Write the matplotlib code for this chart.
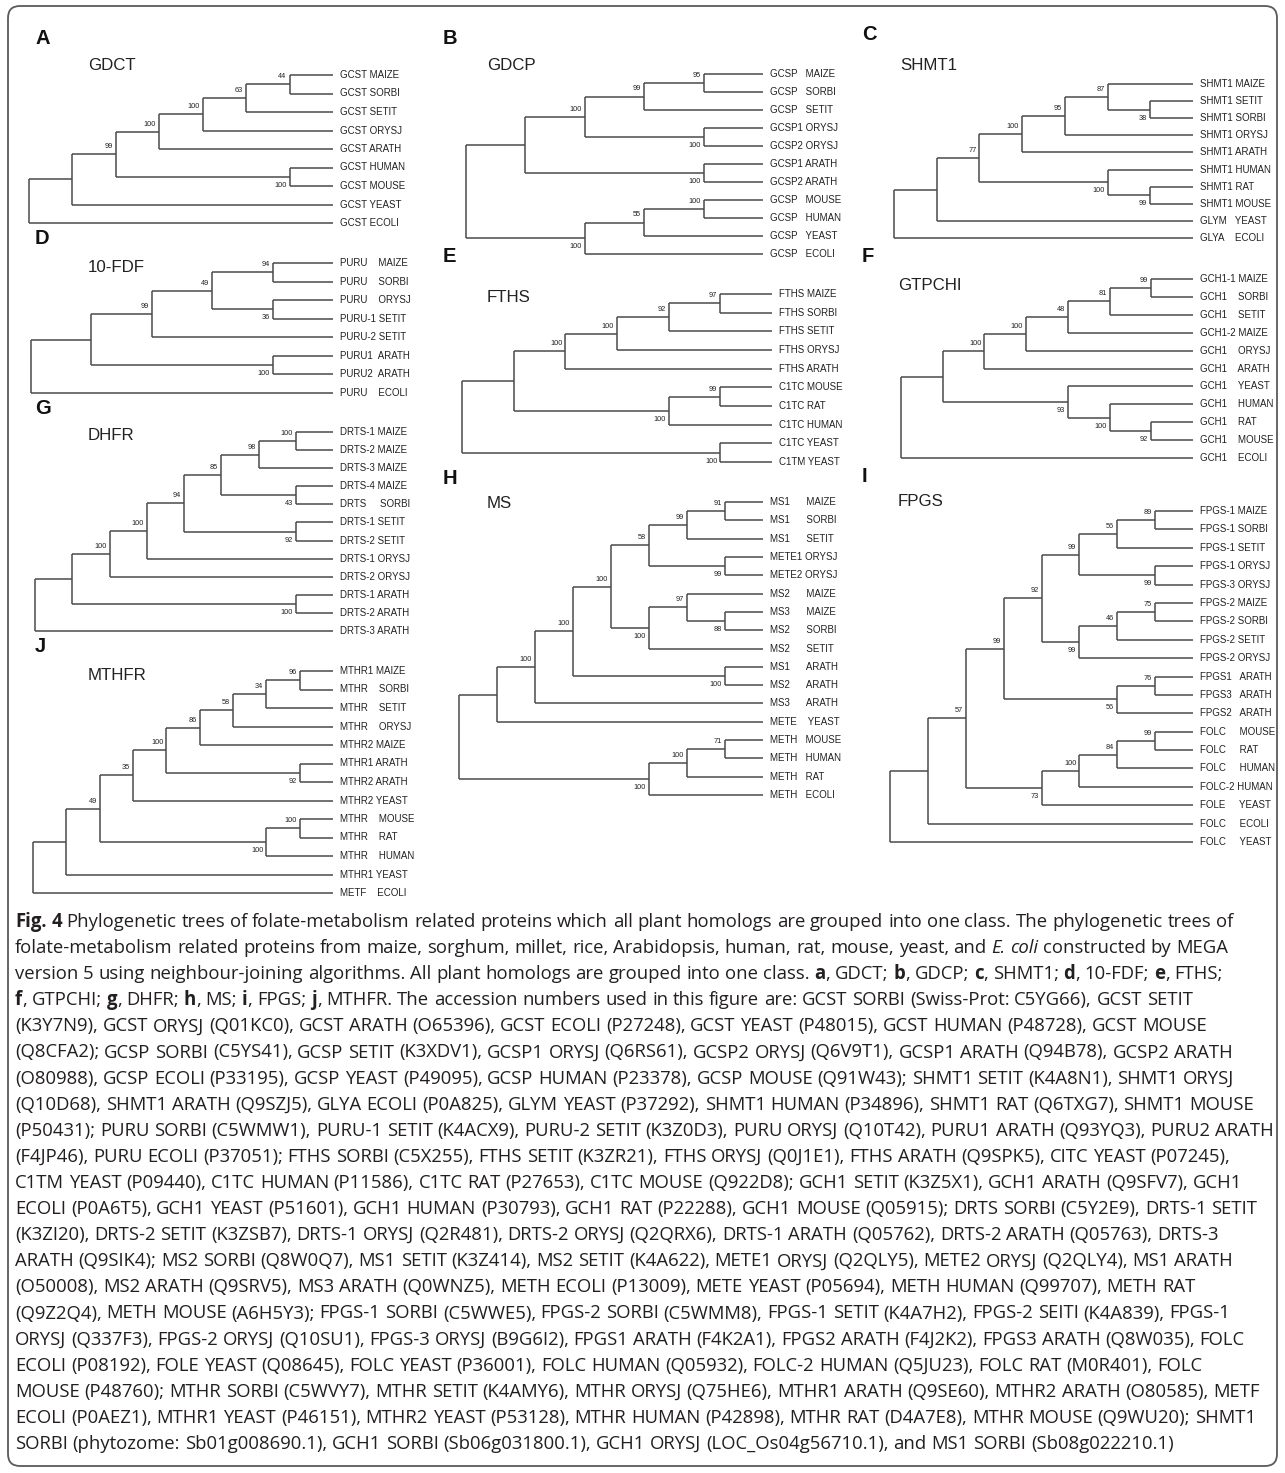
import re
import matplotlib
matplotlib.use("Agg")
import matplotlib.pyplot as plt
from matplotlib.patches import FancyBboxPatch

# ---------------------------------------------------------------- data
PANEL_LETTERS = ["A", "B", "C", "D", "E", "F", "G", "H", "I", "J"]
PANEL_TITLES = ["GDCT", "GDCP", "SHMT1", "10-FDF", "FTHS",
                "GTPCHI", "DHFR", "MS", "FPGS", "MTHFR"]

# Neighbour-joining topologies (Newick, bootstrap support after each clade)
GDCT_TREE = ("(((((((GCST MAIZE,GCST SORBI)44,GCST SETIT)63,GCST ORYSJ)100,"
             "GCST ARATH)100,(GCST HUMAN,GCST MOUSE)100)99,GCST YEAST),GCST ECOLI)")
GDCP_TREE = ("(((((GCSP   MAIZE,GCSP   SORBI)95,GCSP   SETIT)99,"
             "(GCSP1 ORYSJ,GCSP2 ORYSJ)100)100,(GCSP1 ARATH,GCSP2 ARATH)100),"
             "(((GCSP   MOUSE,GCSP   HUMAN)100,GCSP   YEAST)55,GCSP   ECOLI)100)")
SHMT1_TREE = ("((((((SHMT1 MAIZE,(SHMT1 SETIT,SHMT1 SORBI)38)87,SHMT1 ORYSJ)95,"
              "SHMT1 ARATH)100,(SHMT1 HUMAN,(SHMT1 RAT,SHMT1 MOUSE)99)100)77,"
              "GLYM   YEAST),GLYA    ECOLI)")
FDF_TREE = ("(((((PURU    MAIZE,PURU    SORBI)94,(PURU    ORYSJ,PURU-1 SETIT)36)49,"
            "PURU-2 SETIT)99,(PURU1  ARATH,PURU2  ARATH)100),PURU    ECOLI)")
FTHS_TREE = ("((((((FTHS MAIZE,FTHS SORBI)97,FTHS SETIT)92,FTHS ORYSJ)100,"
             "FTHS ARATH)100,((C1TC MOUSE,C1TC RAT)99,C1TC HUMAN)100),"
             "(C1TC YEAST,C1TM YEAST)100)")
GTPCHI_TREE = ("(((((((GCH1-1 MAIZE,GCH1    SORBI)99,GCH1    SETIT)81,GCH1-2 MAIZE)48,"
               "GCH1    ORYSJ)100,GCH1    ARATH)100,(GCH1    YEAST,(GCH1    HUMAN,"
               "(GCH1    RAT,GCH1    MOUSE)92)100)93),GCH1    ECOLI)")
DHFR_TREE = ("((((((((DRTS-1 MAIZE,DRTS-2 MAIZE)100,DRTS-3 MAIZE)98,"
             "(DRTS-4 MAIZE,DRTS     SORBI)43)85,(DRTS-1 SETIT,DRTS-2 SETIT)92)94,"
             "DRTS-1 ORYSJ)100,DRTS-2 ORYSJ)100,(DRTS-1 ARATH,DRTS-2 ARATH)100),"
             "DRTS-3 ARATH)")
MS_TREE = ("((((((((MS1      MAIZE,MS1      SORBI)91,MS1      SETIT)99,"
           "(METE1 ORYSJ,METE2 ORYSJ)99)58,((MS2      MAIZE,(MS3      MAIZE,"
           "MS2      SORBI)88)97,MS2      SETIT)100)100,(MS1      ARATH,"
           "MS2      ARATH)100)100,MS3      ARATH)100,METE    YEAST),"
           "(((METH   MOUSE,METH   HUMAN)71,METH   RAT)100,METH   ECOLI)100)")
FPGS_TREE = ("((((((((FPGS-1 MAIZE,FPGS-1 SORBI)89,FPGS-1 SETIT)56,"
             "(FPGS-1 ORYSJ,FPGS-3 ORYSJ)99)99,(((FPGS-2 MAIZE,FPGS-2 SORBI)75,"
             "FPGS-2 SETIT)46,FPGS-2 ORYSJ)99)92,((FPGS1   ARATH,FPGS3   ARATH)76,"
             "FPGS2   ARATH)56)99,((((FOLC     MOUSE,FOLC     RAT)99,"
             "FOLC     HUMAN)84,FOLC-2 HUMAN)100,FOLE     YEAST)73)57,"
             "FOLC     ECOLI),FOLC     YEAST)")
MTHFR_TREE = ("(((((((((MTHR1 MAIZE,MTHR    SORBI)96,MTHR    SETIT)34,"
              "MTHR    ORYSJ)58,MTHR2 MAIZE)86,(MTHR1 ARATH,MTHR2 ARATH)92)100,"
              "MTHR2 YEAST)35,((MTHR    MOUSE,MTHR    RAT)100,MTHR    HUMAN)100)49,"
              "MTHR1 YEAST),METF    ECOLI)")

TREES = [GDCT_TREE, GDCP_TREE, SHMT1_TREE, FDF_TREE, FTHS_TREE,
         GTPCHI_TREE, DHFR_TREE, MS_TREE, FPGS_TREE, MTHFR_TREE]

CAPTION_LINES = [
    "<b>Fig. 4</b> Phylogenetic trees of folate-metabolism related proteins which all plant homologs are grouped into one class. The phylogenetic trees of",
    "folate-metabolism related proteins from maize, sorghum, millet, rice, Arabidopsis, human, rat, mouse, yeast, and <i>E. coli</i> constructed by MEGA",
    "version 5 using neighbour-joining algorithms. All plant homologs are grouped into one class. <b>a</b>, GDCT; <b>b</b>, GDCP; <b>c</b>, SHMT1; <b>d</b>, 10-FDF; <b>e</b>, FTHS;",
    "<b>f</b>, GTPCHI; <b>g</b>, DHFR; <b>h</b>, MS; <b>i</b>, FPGS; <b>j</b>, MTHFR. The accession numbers used in this figure are: GCST SORBI (Swiss-Prot: C5YG66), GCST SETIT",
    "(K3Y7N9), GCST ORYSJ (Q01KC0), GCST ARATH (O65396), GCST ECOLI (P27248), GCST YEAST (P48015), GCST HUMAN (P48728), GCST MOUSE",
    "(Q8CFA2); GCSP SORBI (C5YS41), GCSP SETIT (K3XDV1), GCSP1 ORYSJ (Q6RS61), GCSP2 ORYSJ (Q6V9T1), GCSP1 ARATH (Q94B78), GCSP2 ARATH",
    "(O80988), GCSP ECOLI (P33195), GCSP YEAST (P49095), GCSP HUMAN (P23378), GCSP MOUSE (Q91W43); SHMT1 SETIT (K4A8N1), SHMT1 ORYSJ",
    "(Q10D68), SHMT1 ARATH (Q9SZJ5), GLYA ECOLI (P0A825), GLYM YEAST (P37292), SHMT1 HUMAN (P34896), SHMT1 RAT (Q6TXG7), SHMT1 MOUSE",
    "(P50431); PURU SORBI (C5WMW1), PURU-1 SETIT (K4ACX9), PURU-2 SETIT (K3Z0D3), PURU ORYSJ (Q10T42), PURU1 ARATH (Q93YQ3), PURU2 ARATH",
    "(F4JP46), PURU ECOLI (P37051); FTHS SORBI (C5X255), FTHS SETIT (K3ZR21), FTHS ORYSJ (Q0J1E1), FTHS ARATH (Q9SPK5), CITC YEAST (P07245),",
    "C1TM YEAST (P09440), C1TC HUMAN (P11586), C1TC RAT (P27653), C1TC MOUSE (Q922D8); GCH1 SETIT (K3Z5X1), GCH1 ARATH (Q9SFV7), GCH1",
    "ECOLI (P0A6T5), GCH1 YEAST (P51601), GCH1 HUMAN (P30793), GCH1 RAT (P22288), GCH1 MOUSE (Q05915); DRTS SORBI (C5Y2E9), DRTS-1 SETIT",
    "(K3ZI20), DRTS-2 SETIT (K3ZSB7), DRTS-1 ORYSJ (Q2R481), DRTS-2 ORYSJ (Q2QRX6), DRTS-1 ARATH (Q05762), DRTS-2 ARATH (Q05763), DRTS-3",
    "ARATH (Q9SIK4); MS2 SORBI (Q8W0Q7), MS1 SETIT (K3Z414), MS2 SETIT (K4A622), METE1 ORYSJ (Q2QLY5), METE2 ORYSJ (Q2QLY4), MS1 ARATH",
    "(O50008), MS2 ARATH (Q9SRV5), MS3 ARATH (Q0WNZ5), METH ECOLI (P13009), METE YEAST (P05694), METH HUMAN (Q99707), METH RAT",
    "(Q9Z2Q4), METH MOUSE (A6H5Y3); FPGS-1 SORBI (C5WWE5), FPGS-2 SORBI (C5WMM8), FPGS-1 SETIT (K4A7H2), FPGS-2 SEITI (K4A839), FPGS-1",
    "ORYSJ (Q337F3), FPGS-2 ORYSJ (Q10SU1), FPGS-3 ORYSJ (B9G6I2), FPGS1 ARATH (F4K2A1), FPGS2 ARATH (F4J2K2), FPGS3 ARATH (Q8W035), FOLC",
    "ECOLI (P08192), FOLE YEAST (Q08645), FOLC YEAST (P36001), FOLC HUMAN (Q05932), FOLC-2 HUMAN (Q5JU23), FOLC RAT (M0R401), FOLC",
    "MOUSE (P48760); MTHR SORBI (C5WVY7), MTHR SETIT (K4AMY6), MTHR ORYSJ (Q75HE6), MTHR1 ARATH (Q9SE60), MTHR2 ARATH (O80585), METF",
    "ECOLI (P0AEZ1), MTHR1 YEAST (P46151), MTHR2 YEAST (P53128), MTHR HUMAN (P42898), MTHR RAT (D4A7E8), MTHR MOUSE (Q9WU20); SHMT1",
    "SORBI (phytozome: Sb01g008690.1), GCH1 SORBI (Sb06g031800.1), GCH1 ORYSJ (LOC_Os04g56710.1), and MS1 SORBI (Sb08g022210.1)",
]

# ---------------------------------------------------------------- layout
W, H = 1285, 1473
# letter (x, y), title (x, y), tree box (root_x, tip_x, first_tip_y, last_tip_y)
PANEL_LAYOUT = [
    ((35, 39), (88, 65), (29, 333, 75, 223)),
    ((443, 38), (487, 66), (466, 763, 74, 254)),
    ((862, 35), (900, 65), (894, 1193, 84, 238)),
    ((35, 239), (88, 267), (31, 333, 263, 393)),
    ((443, 256), (487, 298), (462, 772, 294, 462)),
    ((862, 256), (898, 285), (901, 1193, 279, 458)),
    ((35, 408), (88, 435), (35, 333, 432, 631)),
    ((443, 479), (487, 504), (459, 763, 502, 795)),
    ((862, 476), (898, 502), (890, 1193, 511, 842)),
    ((35, 647), (88, 675), (33, 333, 671, 893)),
]

TREE_FONT = ["Liberation Sans", "DejaVu Sans"]
LINE_COLOR = "#4a4a4a"
TEXT_COLOR = "#222222"
CAPTION_COLOR = "#231f20"
CAPTION_FONT = ["Open Sans", "DejaVu Sans"]
CAPTION_LEFT, CAPTION_RIGHT, CAPTION_MAX = 15, 1262, 1276
CAPTION_TOP, CAPTION_STEP = 921, 26.1


def parse_newick(s):
    pos = 0

    def read_token():
        nonlocal pos
        start = pos
        while pos < len(s) and s[pos] not in ",();":
            pos += 1
        return s[start:pos]

    def node():
        nonlocal pos
        if s[pos] == "(":
            pos += 1
            kids = [node()]
            while s[pos] == ",":
                pos += 1
                kids.append(node())
            pos += 1  # closing bracket
            lab = read_token().strip()
            return {"children": kids, "support": lab or None}
        return {"name": read_token(), "children": []}

    return node()


def annotate(tree):
    counter = [0]

    def walk(n):
        if not n["children"]:
            n["index"] = counter[0]
            counter[0] += 1
            n["height"] = 0
            return
        for c in n["children"]:
            walk(c)
        n["height"] = 1 + max(c["height"] for c in n["children"])

    walk(tree)
    return counter[0]


def draw_tree(ax, tree, root_x, tip_x, top_y, bot_y):
    n_leaves = annotate(tree)
    dy = (bot_y - top_y) / (n_leaves - 1)
    step = (tip_x - root_x) / tree["height"]

    def place(n):
        n["x"] = tip_x - n["height"] * step
        if not n["children"]:
            n["y"] = top_y + n["index"] * dy
            return
        for c in n["children"]:
            place(c)
        n["y"] = 0.5 * (n["children"][0]["y"] + n["children"][-1]["y"])

    place(tree)

    def draw(n):
        if not n["children"]:
            ax.text(n["x"] + 7, n["y"], n["name"], fontsize=7.0, family=TREE_FONT,
                    color=TEXT_COLOR, ha="left", va="center")
            return
        kids = n["children"]
        ax.plot([n["x"], n["x"]], [kids[0]["y"], kids[-1]["y"]],
                color=LINE_COLOR, lw=1.1, solid_capstyle="butt")
        for i, c in enumerate(kids):
            ax.plot([n["x"], c["x"]], [c["y"], c["y"]],
                    color=LINE_COLOR, lw=1.1, solid_capstyle="butt")
            if c.get("support"):
                off = -7.5 if i == 0 else 8.5
                ax.text(c["x"] - 3, c["y"] + off, c["support"], fontsize=5.3,
                        family=TREE_FONT, color=TEXT_COLOR, ha="right", va="center")
            draw(c)

    draw(tree)


def markup_words(line):
    bold = italic = False
    chars = []
    for tok in re.split(r"(</?[bi]>)", line):
        if tok == "<b>":
            bold = True
        elif tok == "</b>":
            bold = False
        elif tok == "<i>":
            italic = True
        elif tok == "</i>":
            italic = False
        else:
            chars.extend((ch, bold, italic) for ch in tok)
    words, cur = [], []
    for ch, b, it in chars:
        if ch == " ":
            if cur:
                words.append(cur)
            cur = []
            continue
        if cur and cur[-1][1] == b and cur[-1][2] == it:
            cur[-1] = (cur[-1][0] + ch, b, it)
        else:
            cur.append((ch, b, it))
    if cur:
        words.append(cur)
    return words


fig = plt.figure(figsize=(W / 100, H / 100), dpi=100)
ax = fig.add_axes([0, 0, 1, 1])
ax.set_xlim(0, W)
ax.set_ylim(H, 0)
ax.axis("off")
renderer = fig.canvas.get_renderer()

# outer frame
ax.add_patch(FancyBboxPatch((8, 6), W - 16, H - 13,
                            boxstyle="round,pad=0,rounding_size=12",
                            fc="none", ec="#5a5a5a", lw=1.3))

for letter, title, tree_str, (lpos, tpos, box) in zip(
        PANEL_LETTERS, PANEL_TITLES, TREES, PANEL_LAYOUT):
    ax.text(lpos[0], lpos[1], letter, fontsize=14.5, fontweight="bold",
            family=TREE_FONT, color="#111111", ha="left", va="center")
    ax.text(tpos[0], tpos[1], title, fontsize=12.2, family=TREE_FONT,
            color=TEXT_COLOR, ha="left", va="center")
    draw_tree(ax, parse_newick(tree_str), *box)


def put_line(words, x0, y, size, keep=True):
    def txt(x, s, b, it):
        return ax.text(x, y, s, fontsize=size, family=CAPTION_FONT,
                       fontweight="bold" if b else "normal",
                       fontstyle="italic" if it else "normal",
                       color=CAPTION_COLOR, ha="left", va="baseline")

    probe_a = txt(0, "n n", False, False)
    probe_b = txt(0, "nn", False, False)
    space = (probe_a.get_window_extent(renderer).width
             - probe_b.get_window_extent(renderer).width)
    probe_a.remove()
    probe_b.remove()
    x = x0
    for w in words:
        for s, b, it in w:
            t = txt(x, s, b, it)
            x += t.get_window_extent(renderer).width
            if not keep:
                t.remove()
        x += space
    return x - space


# caption size: first line spans the text block, no line passes the frame
parsed = [markup_words(l) for l in CAPTION_LINES]
base = 12.0
spans = [put_line(w, 0, -100, base, keep=False) for w in parsed]
cap_size = min(base * (CAPTION_RIGHT - CAPTION_LEFT) / spans[0],
               base * (CAPTION_MAX - CAPTION_LEFT) / max(spans))

for i, words in enumerate(parsed):
    put_line(words, CAPTION_LEFT, CAPTION_TOP + 6 + i * CAPTION_STEP, cap_size)

fig.savefig("out.png", dpi=100)
